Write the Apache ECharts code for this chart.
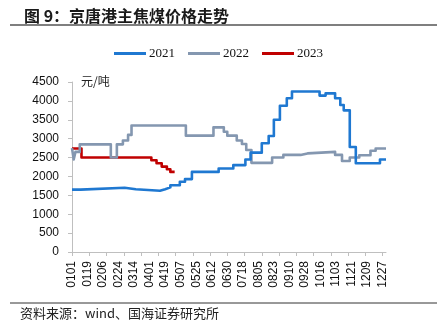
<!DOCTYPE html>
<html>
<head>
<meta charset="utf-8">
<script src="https://cdn.jsdelivr.net/npm/echarts@6/dist/echarts.min.js"></script>
<style>
  html, body { margin: 0; padding: 0; background: #fff; }
  #chart { width: 437px; height: 332px; }
</style>
</head>
<body>
<div id="chart"></div>
<script>
// Daily category axis (MMDD) for a 365-day year
const monthLengths = [31, 28, 31, 30, 31, 30, 31, 31, 30, 31, 30, 31];
const days = [];
monthLengths.forEach((len, m) => {
  for (let d = 1; d <= len; d++) {
    days.push(String(m + 1).padStart(2, '0') + String(d).padStart(2, '0'));
  }
});

// Labels shown under the x axis
const tickLabels = ['0101', '0119', '0206', '0224', '0314', '0401', '0419', '0507', '0525',
  '0612', '0630', '0718', '0805', '0823', '0910', '0928', '1016', '1103', '1121', '1209', '1227'];

// Price change dates and new price (元/吨); the price holds until the next date
const dates2021 = ['0101', '0111', '0303', '0316', '0413', '0419', '0425', '0506', '0512', '0520',
  '0620', '0707', '0721', '0727', '0809', '0817', '0823', '0830', '0907', '0913',
  '1015', '1022', '1102', '1108', '1112', '1119', '1126', '1224', '1231'];
const prices2021 = [1650, 1700, 1660, 1620, 1660, 1710, 1765, 1860, 1930, 2120,
  2210, 2300, 2450, 2630, 2880, 3070, 3500, 3870, 4070, 4250,
  4140, 4200, 4070, 3890, 3750, 2780, 2350, 2450, 2450];

const dates2022 = ['0101', '0103', '0105', '0110', '0215', '0222', '0301', '0307', '0311', '0513',
  '0614', '0626', '0630', '0711', '0717', '0722', '0728', '0821', '0903', '0923',
  '1001', '1102', '1110', '1119', '1130', '1213', '1219', '1231'];
const prices2022 = [2750, 2450, 2650, 2850, 2500, 2850, 2950, 3100, 3350, 3080,
  3300, 3185, 3080, 2950, 2860, 2700, 2360, 2500, 2570, 2610,
  2650, 2570, 2410, 2500, 2560, 2680, 2740, 2740];

const dates2023 = ['0101', '0112', '0403', '0409', '0415', '0421', '0425', '0430'];
const prices2023 = [2740, 2500, 2430, 2350, 2260, 2190, 2120, 2120];

const seriesNames = ['2021', '2022', '2023'];
const seriesColors = ['#1f78d1', '#8497b0', '#c00000'];
const yTicks = { min: 0, max: 4500, step: 500 };

const pair = (dates, values) => dates.map((d, i) => [d, values[i]]);
const seriesData = [pair(dates2021, prices2021), pair(dates2022, prices2022), pair(dates2023, prices2023)];

const chart = echarts.init(document.getElementById('chart'), null, { renderer: 'canvas' });

chart.setOption({
  animation: false,
  backgroundColor: '#ffffff',
  title: {
    text: '图 9：京唐港主焦煤价格走势',
    left: 19,
    top: 3,
    textStyle: { fontFamily: 'Noto Sans CJK SC', fontSize: 16, fontWeight: 'bold', color: '#1a1a1a' }
  },
  graphic: [
    { type: 'line', shape: { x1: 10, y1: 25, x2: 437, y2: 25 }, style: { stroke: '#555', lineWidth: 1.5 } },
    { type: 'line', shape: { x1: 10, y1: 303, x2: 437, y2: 303 }, style: { stroke: '#333', lineWidth: 1 } },
    { type: 'text', left: 20, top: 307,
      style: { text: '资料来源：wind、国海证券研究所', font: '13px "Noto Sans CJK SC"', fill: '#222' } },
    { type: 'text', left: 81, top: 75,
      style: { text: '元/吨', font: '12px "Noto Sans CJK SC"', fill: '#222' } }
  ],
  legend: {
    data: seriesNames,
    left: 109,
    top: 42,
    icon: 'rect',
    itemWidth: 32,
    itemHeight: 3,
    itemGap: 13,
    textStyle: { fontFamily: 'Liberation Serif', fontSize: 13, color: '#111', padding: [0, 0, 0, -2] }
  },
  grid: { left: 72, right: 51, top: 82, bottom: 80, containLabel: false },
  xAxis: {
    type: 'category',
    data: days,
    boundaryGap: false,
    axisLine: { show: true, lineStyle: { color: '#bfbfbf', width: 1 } },
    axisTick: { show: true, interval: 19, length: 4, lineStyle: { color: '#bfbfbf' } },
    axisLabel: {
      interval: (i, v) => tickLabels.includes(v),
      rotate: 90,
      margin: 9,
      fontFamily: 'Liberation Sans',
      fontSize: 12,
      color: '#111'
    },
    splitLine: { show: false }
  },
  yAxis: {
    type: 'value',
    min: yTicks.min,
    max: yTicks.max,
    interval: yTicks.step,
    axisLine: { show: true, lineStyle: { color: '#bfbfbf', width: 1 } },
    axisTick: { show: true, length: 4, lineStyle: { color: '#bfbfbf' } },
    axisLabel: {
      margin: 13,
      fontFamily: 'Liberation Sans',
      fontSize: 12,
      color: '#111',
      formatter: (v) => String(v)
    },
    splitLine: { show: false }
  },
  series: seriesNames.map((name, i) => ({
    name,
    type: 'line',
    step: 'end',
    data: seriesData[i],
    showSymbol: false,
    symbol: 'none',
    color: seriesColors[i],
    lineStyle: { color: seriesColors[i], width: 2.6, join: 'round' },
    z: 3 - i
  }))
});
</script>
</body>
</html>
